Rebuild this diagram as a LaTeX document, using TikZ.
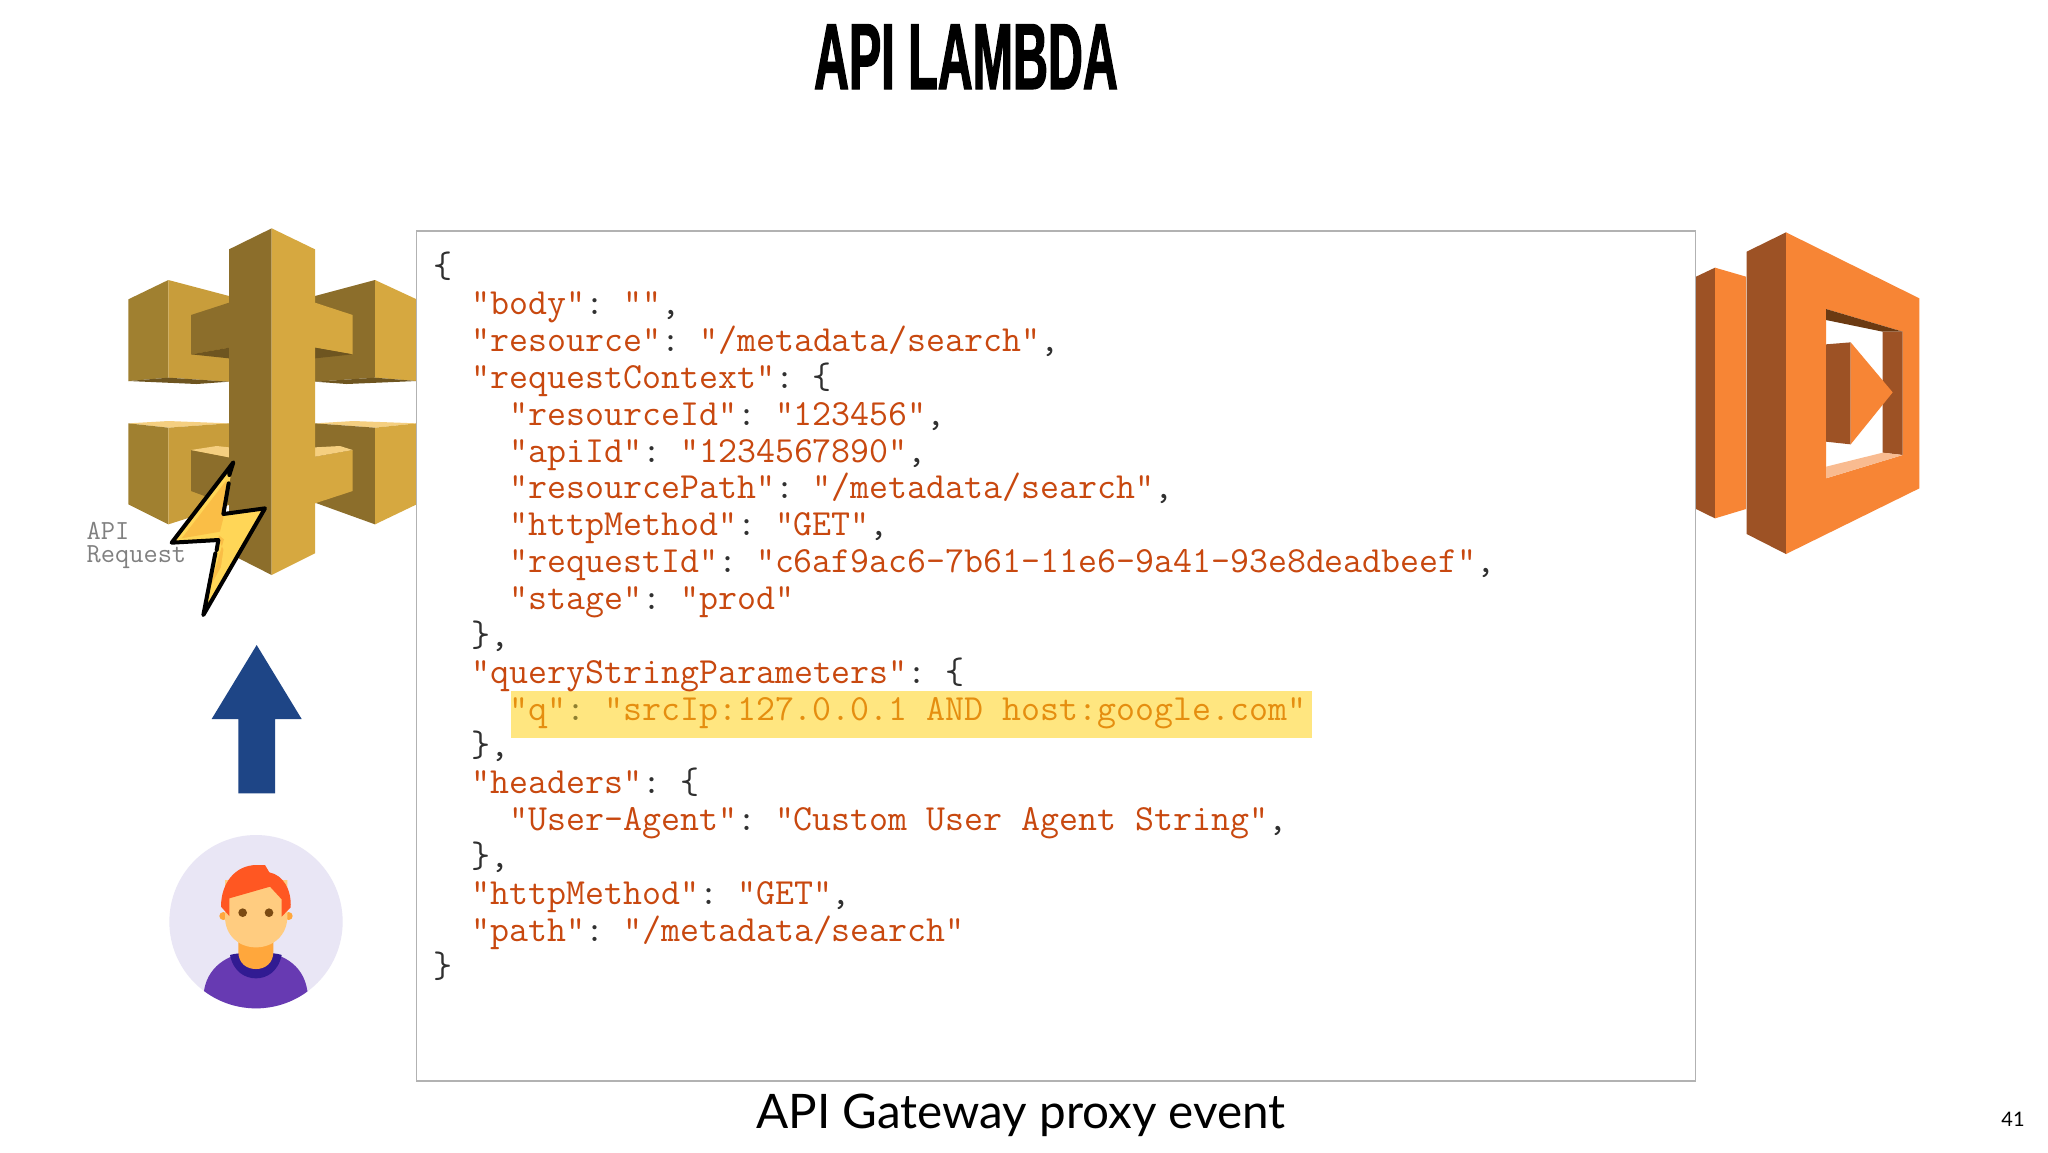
\documentclass[tikz,border=0pt]{standalone}
\usepackage{fontspec}
\newfontfamily\latofont{Lato}
\newfontfamily\titlefont[FakeStretch=0.515,FakeBold=1.2]{Liberation Sans Bold}
\definecolor{gold}{HTML}{D6A840}
\definecolor{goldm}{HTML}{A08030}
\definecolor{goldf}{HTML}{C89D3B}
\definecolor{goldd}{HTML}{8C6E2B}
\definecolor{golddd}{HTML}{6E5520}
\definecolor{goldl}{HTML}{F5CF80}
\definecolor{org}{HTML}{F78535}
\definecolor{orgd}{HTML}{9D5225}
\definecolor{orgdd}{HTML}{6B3A12}
\definecolor{orgl}{HTML}{F9BB90}
\definecolor{jsonred}{HTML}{C8480F}
\definecolor{jsonp}{HTML}{303030}
\definecolor{hl}{HTML}{FFE680}
\definecolor{hltext}{HTML}{E58E10}
\definecolor{hlp}{HTML}{8F7F30}
\definecolor{arrowblue}{HTML}{1E4586}
\definecolor{boltl}{HTML}{FFD657}
\definecolor{boltd}{HTML}{FABE46}
\definecolor{ucircle}{HTML}{E9E6F5}
\definecolor{ubody}{HTML}{673AB2}
\definecolor{ucollar}{HTML}{311B92}
\definecolor{uneck}{HTML}{FFA73C}
\definecolor{uface}{HTML}{FFCC80}
\definecolor{uhair}{HTML}{FF5722}
\definecolor{ueye}{HTML}{7B4A12}
\newcommand{\K}[1]{\textcolor{jsonred}{#1}}
\newcommand{\Ph}[1]{\textcolor{hltext}{#1}}
\def\bl#1{720+(#1-12)*36.84}
\frenchspacing
\tikzset{
  jsonline/.style={anchor=base west,inner sep=0pt,outer sep=0pt,text=jsonp,font=\ttfamily\fontsize{18.42}{20}\selectfont},
  iconunit/.style={x=0.16667pt,y=-0.16667pt},
  box/.style={draw=black!30,line width=0.75pt,fill=white},
  apitext/.style={jsonline,text=black!50,font=\ttfamily\fontsize{13.8}{15}\selectfont}
}
\begin{document}
\begin{tikzpicture}[x=0.5pt,y=-0.5pt]
\useasboundingbox (0,0) rectangle (2048,1152);
\fill[white] (0,0) rectangle (2048,1152);
% API Gateway icon
\begin{scope}[shift={(60,210)},iconunit]
 % upper left
 \fill[goldm] (205,268)--(325,210)--(325,503)--(205,513)--cycle;
 \fill[goldf] (325,210)--(507,258)--(507,515)--(325,503)--cycle;
 \fill[golddd] (205,513)--(325,503)--(507,515)--(410,522)--cycle;
 \fill[goldd] (393,315)--(507,278)--(507,413)--(393,433)--cycle;
 \fill[golddd] (393,433)--(507,413)--(507,445)--cycle;
 % upper right
 \fill[goldd] (765,258)--(945,210)--(945,503)--(765,515)--cycle;
 \fill[gold] (945,210)--(1070,268)--(1070,513)--(945,503)--cycle;
 \fill[golddd] (765,515)--(945,503)--(1070,513)--(860,522)--cycle;
 \fill[gold] (765,278)--(878,315)--(878,433)--(765,413)--cycle;
 \fill[golddd] (765,413)--(878,433)--(765,445)--cycle;
 % lower left
 \fill[goldl] (205,640)--(325,633)--(507,640)--(325,653)--cycle;
 \fill[goldm] (205,640)--(325,653)--(325,943)--(205,883)--cycle;
 \fill[goldf] (325,653)--(507,640)--(507,885)--(325,943)--cycle;
 \fill[goldd] (393,720)--(507,742)--(507,885)--(393,843)--cycle;
 \fill[goldl] (393,720)--(470,708)--(507,712)--(507,742)--cycle;
 % lower right
 \fill[goldl] (765,640)--(880,633)--(1070,640)--(945,653)--cycle;
 \fill[goldd] (765,640)--(945,653)--(945,943)--(765,878)--cycle;
 \fill[gold] (945,653)--(1070,640)--(1070,883)--(945,943)--cycle;
 \fill[gold] (765,740)--(878,720)--(878,843)--(765,880)--cycle;
 \fill[goldl] (765,712)--(840,708)--(878,720)--(765,740)--cycle;
 % column
 \fill[goldd] (507,118)--(635,55)--(635,1095)--(507,1030)--cycle;
 \fill[gold] (635,55)--(765,118)--(765,1030)--(635,1095)--cycle;
 % lightning
 \fill[boltl] (520,757)--(335,998)--(475,990)--(430,1215)--(615,895)--(490,912)--cycle;
 \fill[boltd] (500,810)--(365,985)--(480,965)--(500,960)--(450,1130)--(500,1040)--(475,985)--(490,925)--cycle;
 \fill[boltl] (470,970)--(590,905)--(480,1090)--(495,990)--cycle;
 \draw[black,line width=2pt,line cap=round,line join=round]
   (508,795)--(520,757)--(335,998)--(475,990)--(470,1020);
 \draw[black,line width=2pt,line cap=round,line join=round]
   (466,1030)--(430,1215)--(615,895)--(490,912)--(506,820);
\end{scope}
% Lambda icon
\begin{scope}[shift={(1680,210)},iconunit]
 \fill[orgd] (48,200)--(105,173)--(105,925)--(48,897)--cycle;
 \fill[org] (105,173)--(198,200)--(198,897)--(105,925)--cycle;
 \fill[orgd] (200,125)--(318,67)--(318,1032)--(200,972)--cycle;
 \fill[org,even odd rule] (318,67)--(718,265)--(718,835)--(318,1032)--cycle
    (438,297)--(668,365)--(668,735)--(438,805)--cycle;
 \fill[orgdd] (438,297)--(668,365)--(608,365)--(438,330)--cycle;
 \fill[orgd] (608,365)--(668,365)--(668,735)--(608,728)--cycle;
 \fill[orgl] (438,770)--(608,728)--(668,735)--(438,805)--cycle;
 \fill[orgd] (438,403)--(512,397)--(512,703)--(438,695)--cycle;
 \fill[org] (512,397)--(638,547)--(512,703)--cycle;
\end{scope}
% Arrow and user
\begin{scope}[shift={(150,630)},iconunit]
 \fill[arrowblue] (320,45)--(455,267)--(375,267)--(375,490)--(265,490)--(265,267)--(185,267)--cycle;
 \fill[ucircle] (318,875) circle (260);
 \begin{scope}
  \clip (318,875) circle (260);
  \fill[ubody] (162,1140)--(162,1082) .. controls (175,1000) and (250,965) .. (318,965) .. controls (390,965) and (460,1000) .. (472,1082)--(472,1140)--cycle;
 \end{scope}
 \fill[ucollar] (240,975) .. controls (270,965) and (370,965) .. (395,975) .. controls (385,1025) and (350,1045) .. (318,1045) .. controls (285,1045) and (250,1025) .. (240,975) -- cycle;
 \fill[uneck] (265,920)--(370,920)--(370,965) .. controls (370,1000) and (345,1017) .. (318,1017) .. controls (290,1017) and (265,1000) .. (265,965)--cycle;
 \fill[uneck] (220,858) circle (12) (416,858) circle (12);
 \fill[uface] (225,750) -- (412,750) -- (412,860) .. controls (412,915) and (370,952) .. (318,952) .. controls (265,952) and (225,915) .. (225,860) -- cycle;
 \fill[uhair] (238,858)--(213,830) .. controls (213,760) and (255,705) .. (320,705) -- (345,705) -- (358,727) .. controls (400,735) and (425,780) .. (422,832) -- (395,860) -- (395,808) -- (360,770) -- (238,805) -- cycle;
 \fill[ueye] (278,848) circle (13) (357,848) circle (13);
\end{scope}
% JSON box
\draw[box] (416.7,231) rectangle (1695.7,1081);
\fill[hl] (511,691) rectangle (1312,738);
\node[jsonline] (l0) at (433.6,{\bl{0}}) {\{};
\node[jsonline] (l1) at (471.5,{\bl{1}}) {\K{"body"}: \K{""},};
\node[jsonline] (l2) at (471.5,{\bl{2}}) {\K{"resource"}: \K{"/metadata/search"},};
\node[jsonline] (l3) at (471.5,{\bl{3}}) {\K{"requestContext"}: \{};
\node[jsonline] (l4) at (509.4,{\bl{4}}) {\K{"resourceId"}: \K{"123456"},};
\node[jsonline] (l5) at (509.4,{\bl{5}}) {\K{"apiId"}: \K{"1234567890"},};
\node[jsonline] (l6) at (509.4,{\bl{6}}) {\K{"resourcePath"}: \K{"/metadata/search"},};
\node[jsonline] (l7) at (509.4,{\bl{7}}) {\K{"httpMethod"}: \K{"GET"},};
\node[jsonline] (l8) at (509.4,{\bl{8}}) {\K{"requestId"}: \K{"c6af9ac6-7b61-11e6-9a41-93e8deadbeef"},};
\node[jsonline] (l9) at (509.4,{\bl{9}}) {\K{"stage"}: \K{"prod"}};
\node[jsonline] (l10) at (471.5,{\bl{10}}) {\},};
\node[jsonline] (l11) at (471.5,{\bl{11}}) {\K{"queryStringParameters"}: \{};
\node[jsonline,text=hlp] (l12) at (509.4,{\bl{12}}) {\Ph{"q"}: \Ph{"srcIp:127.0.0.1 AND host:google.com"}};
\node[jsonline] (l13) at (471.5,{\bl{13}}) {\},};
\node[jsonline] (l14) at (471.5,{\bl{14}}) {\K{"headers"}: \{};
\node[jsonline] (l15) at (509.4,{\bl{15}}) {\K{"User-Agent"}: \K{"Custom User Agent String"},};
\node[jsonline] (l16) at (471.5,{\bl{16}}) {\},};
\node[jsonline] (l17) at (471.5,{\bl{17}}) {\K{"httpMethod"}: \K{"GET"},};
\node[jsonline] (l18) at (471.5,{\bl{18}}) {\K{"path"}: \K{"/metadata/search"}};
\node[jsonline] (l19) at (433.6,{\bl{19}}) {\}};
% Texts
\node[apitext] (apireq1) at (86.7,539) {API};
\node[apitext] (apireq2) at (86.7,562.7) {Request};
\node[anchor=base,inner sep=0pt,font=\titlefont\fontsize{47}{50}\selectfont] (title) at (966,89) {API LAMBDA};
\node[anchor=base,inner sep=0pt,font=\latofont\fontsize{23.8}{28}\selectfont] (subtitle) at (1021,1128) {API Gateway proxy event};
\node[anchor=center,inner sep=0pt,font=\latofont\fontsize{10}{12}\selectfont] (pagenum) at (2013,1119) {41};
\end{tikzpicture}
\end{document}
